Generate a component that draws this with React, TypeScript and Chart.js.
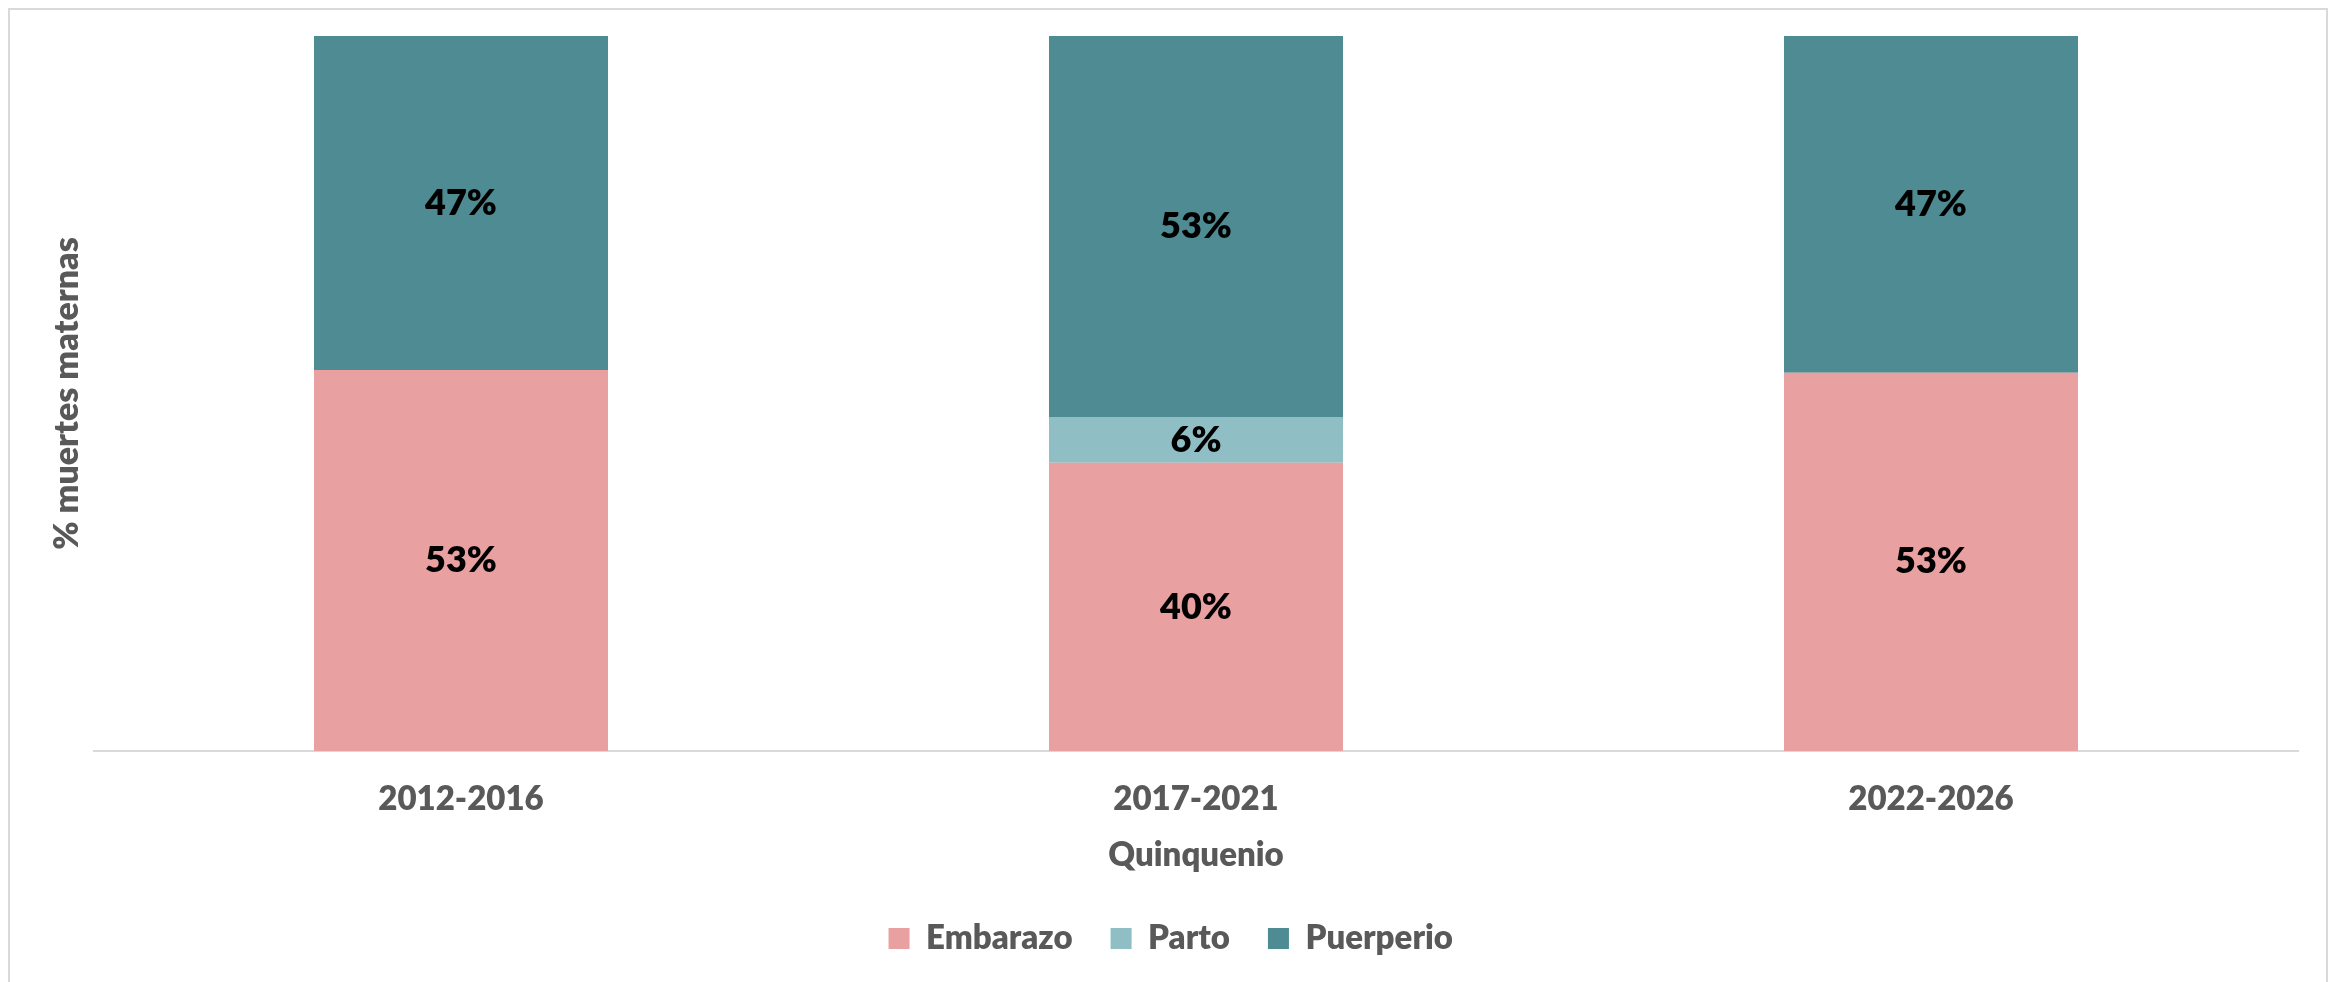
import React, { useEffect, useRef } from "react";
import { Chart, registerables } from "chart.js";

Chart.register(...registerables);

const categories = ["2012-2016", "2017-2021", "2022-2026"];
const embarazo = [53.3, 40.3, 52.9];
const parto = [0, 6.4, 0];
const puerperio = [46.7, 53.3, 47.1];
const seriesNames = ["Embarazo", "Parto", "Puerperio"];
const seriesColors = ["#E8A0A1", "#8FBFC5", "#4F8B92"];

const W = 2320;
const H = 974;
const FONT = "Lato, 'Open Sans', sans-serif";
const GREY = "#595959";
const WEIGHT = "800";

export default function App() {
  const ref = useRef<HTMLCanvasElement | null>(null);

  useEffect(() => {
    document.documentElement.style.overflow = "hidden";
    const canvas = ref.current;
    if (!canvas) return;

    const framePlugin = {
      id: "frame",
      beforeDraw(chart: any) {
        const ctx = chart.ctx;
        ctx.save();
        ctx.fillStyle = "#ffffff";
        ctx.fillRect(0, 0, chart.width, chart.height);
        ctx.strokeStyle = "#d9d9d9";
        ctx.lineWidth = 2;
        ctx.strokeRect(1, 1, chart.width - 2, chart.height + 10);
        ctx.restore();
      },
    };

    const labelPlugin = {
      id: "segLabels",
      afterDatasetsDraw(chart: any) {
        const ctx = chart.ctx;
        ctx.save();
        ctx.font = `${WEIGHT} 36px ${FONT}`;
        ctx.fillStyle = "#000000";
        ctx.textAlign = "center";
        ctx.textBaseline = "middle";
        chart.data.datasets.forEach((ds: any, i: number) => {
          const meta = chart.getDatasetMeta(i);
          meta.data.forEach((el: any, j: number) => {
            const v = ds.data[j];
            if (!v) return;
            const y = (el.y + el.base) / 2;
            ctx.fillText(Math.round(v) + "%", el.x, y);
          });
        });
        ctx.restore();
      },
    };

    const chart = new Chart(canvas, {
      type: "bar",
      data: {
        labels: categories,
        datasets: [embarazo, parto, puerperio].map((d, i) => ({
          label: seriesNames[i],
          data: d,
          backgroundColor: seriesColors[i],
          borderWidth: 0,
          categoryPercentage: 1,
          barPercentage: 0.4,
        })),
      },
      options: {
        responsive: false,
        animation: false,
        devicePixelRatio: 1,
        layout: { padding: { top: 28, left: 35, right: 29.5, bottom: 18 } },
        plugins: {
          tooltip: { enabled: false },
          legend: {
            position: "bottom",
            maxHeight: 80,
            labels: {
              boxWidth: 21,
              boxHeight: 21,
              padding: 38,
              color: GREY,
              font: { family: FONT, size: 33, weight: WEIGHT },
            },
          },
        },
        scales: {
          x: {
            stacked: true,
            grid: { display: false, drawTicks: false },
            border: { display: true, color: "#d9d9d9", width: 2 },
            ticks: {
              padding: 29,
              color: GREY,
              font: { family: FONT, size: 33, weight: WEIGHT },
            },
            title: {
              display: true,
              text: "Quinquenio",
              color: GREY,
              padding: { top: 0, bottom: 9 },
              font: { family: FONT, size: 33, weight: WEIGHT },
            },
            afterFit(scale: any) {
              scale.height = 133;
            },
          },
          y: {
            stacked: true,
            min: 0,
            max: 100,
            grid: { display: false, drawTicks: false },
            border: { display: false },
            ticks: { display: false },
            title: {
              display: true,
              text: "% muertes maternas",
              color: GREY,
              padding: { top: 4, bottom: 4 },
              font: { family: FONT, size: 34, weight: WEIGHT },
            },
            afterFit(scale: any) {
              scale.width = 50.5;
            },
          },
        },
      },
      plugins: [framePlugin, labelPlugin],
    } as any);

    return () => chart.destroy();
  }, []);

  return <canvas ref={ref} width={W} height={H} style={{ display: "block", width: W, height: H }} />;
}
